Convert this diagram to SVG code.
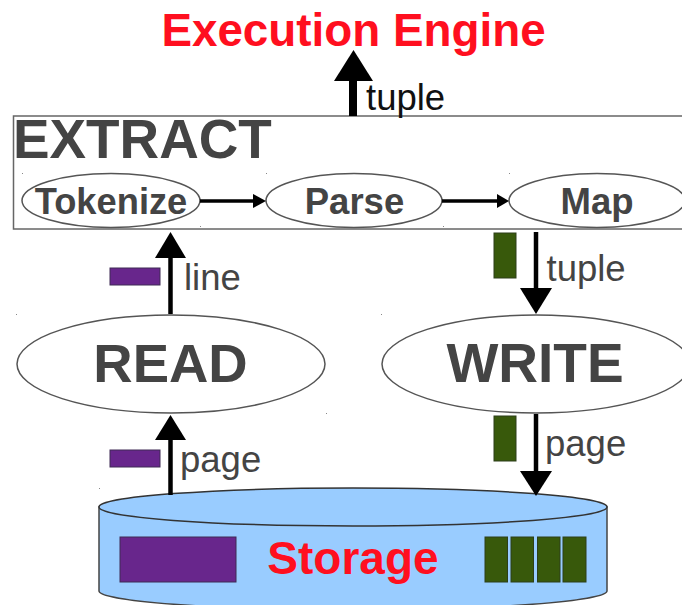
<svg xmlns="http://www.w3.org/2000/svg" width="682" height="605" viewBox="0 0 682 605">
<style>
text{font-family:"Liberation Sans",Arial,sans-serif}
.b{font-weight:bold;fill:#444}
.l{fill:#444;font-size:36.500px}
.r{font-weight:bold;fill:#ff0f1f}
.e{fill:#fff;stroke:#555;stroke-width:1.500}
.c{stroke:#000;fill:none}
.p{fill:#68268c;stroke:#3f2a55;stroke-width:1}
.g{fill:#38590b;stroke:#2c3f1a;stroke-width:1}
.d{fill:#888}
</style>
<rect width="682" height="605" fill="#fff"/>
<g id="title"><text class="r" x="353.500" y="46" font-size="45.800" text-anchor="middle">Execution Engine</text></g>
<g id="extract">
<rect x="13.500" y="116" width="670" height="113" fill="#fff" stroke="#666" stroke-width="1.500"/>
<text class="b" x="13" y="158" font-size="54.800">EXTRACT</text>
</g>
<g id="tokenize"><ellipse class="e" cx="111" cy="200.500" rx="89" ry="27"/><text class="b" x="111" y="214" font-size="36.300" text-anchor="middle">Tokenize</text></g>
<g id="parse"><ellipse class="e" cx="354" cy="200.500" rx="88" ry="27"/><text class="b" x="354.500" y="214" font-size="36.500" text-anchor="middle">Parse</text></g>
<g id="map"><ellipse class="e" cx="597" cy="200.500" rx="88" ry="27"/><text class="b" x="597" y="214" font-size="36.500" text-anchor="middle">Map</text></g>
<g id="read"><ellipse class="e" cx="171" cy="364" rx="154" ry="49"/><text class="b" x="170.500" y="382" font-size="54.500" text-anchor="middle">READ</text></g>
<g id="write"><ellipse class="e" cx="536" cy="364" rx="154" ry="49"/><text class="b" x="535" y="382" font-size="55" text-anchor="middle">WRITE</text></g>
<g id="storage">
<path d="M99 507V591C99 601 213 610 353 610S607 601 607 591V507Z" fill="#99ccff" stroke="#444" stroke-width="1.500"/>
<ellipse cx="353" cy="507" rx="254" ry="19" fill="#99ccff" stroke="#333" stroke-width="1.500"/>
<text class="r" x="353" y="574" font-size="46" text-anchor="middle">Storage</text>
<rect class="p" x="120" y="537" width="116" height="45"/>
<rect class="g" x="485" y="537" width="22.500" height="45"/>
<rect class="g" x="511" y="537" width="22.500" height="45"/>
<rect class="g" x="537.500" y="537" width="22.500" height="45"/>
<rect class="g" x="563" y="537" width="23" height="45"/>
</g>
<g id="items">
<rect class="p" x="110" y="268" width="50" height="17"/>
<rect class="p" x="110" y="450" width="50" height="17"/>
<rect class="g" x="494" y="233" width="22" height="45"/>
<rect class="g" x="494" y="416" width="22" height="45"/>
</g>
<g id="connectors">
<path class="c" stroke-width="8" d="M353 116V80"/><path d="M334 81L353.500 50L373 81Z"/>
<path class="c" stroke-width="3.500" d="M200 201H255"/><path d="M253 194L266 201L253 208Z"/>
<path class="c" stroke-width="3.500" d="M442 201H498"/><path d="M497 194L509 201L497 208Z"/>
<path class="c" stroke-width="4.500" d="M170.500 314V256"/><path d="M155 258L170.500 232L186 258Z"/>
<path class="c" stroke-width="4.500" d="M536 232V290"/><path d="M520 288L536 314L552 288Z"/>
<path class="c" stroke-width="4.500" d="M170.500 495V439"/><path d="M155 440L170.500 415L186 440Z"/>
<path class="c" stroke-width="4.500" d="M536 414V473"/><path d="M520 471L536 496L552 471Z"/>
</g>
<g id="labels">
<text x="366" y="110" font-size="36.500" fill="#111">tuple</text>
<text class="l" x="184" y="290">line</text>
<text class="l" x="546.500" y="281">tuple</text>
<text class="l" x="180" y="472">page</text>
<text class="l" x="545" y="456">page</text>
</g>
<g id="marks" class="d">
<rect class="d" x="22" y="173" width="1" height="1"/><rect class="d" x="266" y="173" width="1" height="1"/><rect class="d" x="509" y="173" width="1" height="1"/>
<rect class="d" x="200" y="226" width="1" height="1"/><rect class="d" x="443" y="226" width="1" height="1"/>
<rect class="d" x="16" y="314" width="1" height="1"/><rect class="d" x="381" y="314" width="1" height="1"/>
<rect class="d" x="326" y="413" width="1" height="1"/><rect class="d" x="99" y="488" width="1" height="1"/>
</g>
</svg>
